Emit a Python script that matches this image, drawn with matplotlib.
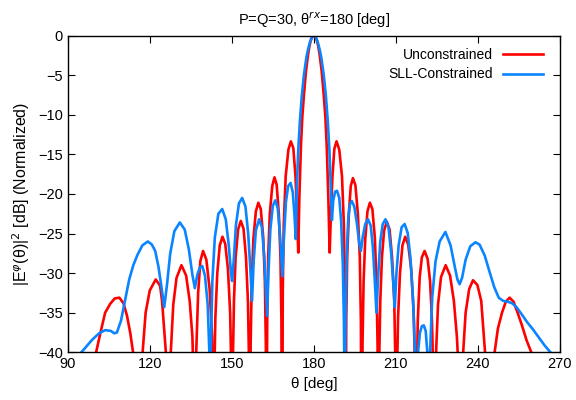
import numpy as np
import matplotlib.pyplot as plt

plt.rcParams['font.family'] = ['Liberation Sans', 'DejaVu Sans']

# Unconstrained pattern (theta [deg], level [dB])
theta_unc = [95.0, 97.0, 100.4, 102.0, 103.7, 105.5, 107.2, 108.9, 110.4, 111.7, 112.9, 113.9, 114.8, 115.5,
             116.3, 117.4, 118.5, 120.0, 122.2, 123.8, 124.5, 125.9, 126.7,
             126.9, 127.7, 128.6, 129.8, 131.6, 133.3, 134.6, 135.6, 136.1, 136.5,
             137.0, 137.7, 138.5, 139.5, 140.7, 141.9, 142.8, 143.3,
             143.6, 144.0, 144.7, 145.6, 146.6, 147.6, 148.6, 149.4, 149.8, 150.1,
             150.4, 150.8, 151.4, 152.3, 153.3, 154.3, 155.2, 155.9, 156.3, 156.6,
             156.9, 157.3, 157.9, 158.8, 159.7, 160.6, 161.5, 162.1, 162.45, 162.7,
             162.95, 163.3, 163.9, 164.8, 165.6, 166.4, 167.2, 167.8, 168.15, 168.4,
             168.65, 169.0, 169.7, 170.7, 171.6, 172.5, 173.3, 173.9, 174.3,
             174.7, 175.3, 175.8, 176.4, 177.1, 177.8, 178.3, 178.8, 179.4, 180.0,
             180.6, 181.2, 181.7, 182.2, 182.9, 183.6, 184.2, 184.7, 185.3, 185.8,
             186.2, 186.8, 187.5, 188.3, 189.3, 190.3, 191.0, 191.35, 191.6,
             191.85, 192.2, 192.8, 193.5, 194.3, 195.2, 196.1, 196.8, 197.2, 197.5,
             197.8, 198.2, 198.8, 199.6, 200.5, 201.4, 202.3, 202.9, 203.3, 203.6,
             203.9, 204.3, 204.9, 205.7, 206.7, 207.7, 208.6, 209.4, 209.8, 210.1,
             210.4, 210.8, 211.5, 212.4, 213.4, 214.5, 215.6, 216.5, 217.0, 217.4,
             217.6, 218.0, 218.7, 219.5, 220.5, 221.6, 222.5, 223.2, 223.6, 223.9,
             224.3, 224.7, 225.4, 226.5, 228.2, 229.8, 231.2, 232.3, 232.9, 233.6,
             234.2, 234.6, 235.5, 236.8, 238.2, 239.8, 241.2, 242.6, 243.5, 244.4,
             245.3, 246.1, 247.3, 248.8, 250.2, 251.6, 253.0, 254.5, 256.0, 257.8, 259.5, 261.0, 265.0]
db_unc = [-50, -46, -40, -37.5, -35.0, -33.9, -33.2, -33.1, -33.8, -35.4, -37.6, -40, -45, -60,
          -60, -40, -35, -32.2, -30.8, -31.6, -33.5, -40, -60,
          -60, -40, -34, -30.6, -29.0, -30.3, -33.5, -38, -45, -60,
          -40, -32.5, -28.5, -27.2, -28.3, -32, -38, -60,
          -43, -35.6, -30, -26.5, -25.4, -26.3, -29.5, -35, -42, -60,
          -41, -33.5, -28, -24.5, -23.4, -24.4, -28, -33.5, -41, -60,
          -39, -31, -25.7, -22.2, -21.1, -21.9, -25.5, -31, -39, -60,
          -36, -28, -22.5, -19, -17.9, -18.8, -22.5, -28, -36, -60,
          -32, -24, -17.8, -14.4, -13.35, -14.2, -17.8, -23, -27.4,
          -20.5, -13.8, -10.2, -7.4, -4.6, -2.6, -1.5, -0.7, -0.15, 0.0,
          -0.15, -0.7, -1.5, -2.6, -4.6, -7.4, -10.2, -13.8, -20.5, -27.4,
          -23, -17.8, -14.3, -13.35, -14.4, -17.8, -24, -32, -60,
          -36, -28, -22.5, -19, -18.0, -18.9, -22.5, -28, -36, -60,
          -39, -31, -25.7, -22.2, -21.1, -21.9, -25.5, -31, -39, -60,
          -41, -33.5, -28, -24.6, -23.5, -24.5, -28, -33.5, -41, -60,
          -43, -35.6, -30, -26.5, -25.4, -26.4, -29.5, -35, -42, -60,
          -45, -36, -30.5, -28, -27.2, -28.2, -31, -36, -42, -60,
          -60, -40, -34, -30.5, -29.0, -30.3, -33.5, -38, -42, -60,
          -45, -40, -35, -32, -30.9, -31.5, -33.5, -40, -45, -60,
          -45, -40, -37, -35, -33.6, -33.1, -33.6, -35, -36.5, -38.5, -40, -43, -50]

# SLL-constrained pattern
theta_sll = [93.0, 95.0, 97.0, 99.0, 101.5, 103.7, 105.8, 107.0, 108.0, 109.5, 111.0, 112.5, 114.0, 115.5,
             117.3, 119.3, 120.8, 122.0, 123.2, 124.3, 125.3, 126.3, 127.5, 129.0, 131.0, 132.8, 134.3,
             135.6, 136.5, 137.4, 138.3, 139.2, 140.2, 141.2, 141.8, 142.0, 142.3, 142.9, 143.8, 145.1,
             146.5, 147.8, 148.9, 149.6, 150.1, 150.7, 151.5, 152.6, 153.8, 155.0, 156.0, 156.8, 157.4,
             158.0, 158.8, 160.0, 161.0, 161.9, 162.5, 162.9, 163.4, 164.1, 165.0, 165.9, 166.8, 167.6,
             168.2, 168.5, 169.0, 169.8, 170.6, 171.5, 172.3, 172.9, 173.4,
             173.8, 174.3, 174.9, 175.6, 176.4, 177.3, 177.9, 178.5, 179.0, 179.5, 180.0, 180.5, 181.0,
             181.5, 182.1, 182.7, 183.6, 184.4, 185.1, 185.7, 186.2, 186.6,
             187.1, 187.8, 188.5, 189.3, 190.0, 190.6, 191.0, 191.3, 191.6, 192.0, 192.6, 193.2, 193.9,
             194.8, 195.7, 196.6, 197.2, 197.9, 198.8, 199.8, 200.8, 201.6, 202.3, 202.9, 203.5, 204.3,
             205.2, 206.2, 207.3, 208.3, 209.1, 209.6, 210.2, 211.0, 212.1, 213.2, 214.3, 215.3, 216.3,
             217.0, 217.5, 218.1, 218.8, 219.5, 220.2, 220.9, 221.5, 222.0, 222.5, 223.3, 224.5, 226.0,
             228.1, 230.0, 231.6, 232.5, 233.3, 234.2, 235.5, 237.2, 239.1, 240.6, 242.5, 244.3, 246.0,
             247.6, 249.2, 250.8, 252.5, 254.1, 256.0, 258.0, 260.1, 262.2, 264.3, 266.5, 268.0]
db_sll = [-41.5, -40, -39.2, -38.4, -37.6, -37.2, -37.3, -37.6, -37.5, -36, -33.4, -30.8, -29, -27.7,
          -26.5, -26.0, -26.4, -27.2, -29.2, -31.8, -34.3, -31.5, -27.5, -24.7, -23.6, -24.5, -27,
          -30.2, -31.9, -30.2, -29.3, -29.1, -30.3, -34, -40, -48, -40, -31, -25.5, -22.5,
          -21.9, -23.2, -26.5, -29.5, -31.0, -28.5, -24, -21.2, -20.5, -21.6, -25, -29.5, -33.5,
          -28.5, -24.6, -23.2, -24.2, -28, -32.5, -35.4, -30, -24.5, -21.5, -20.8, -21.8, -25,
          -28.5, -30.4, -26, -21, -19, -18.6, -19.8, -22.5, -25.7,
          -19, -14.5, -10.8, -7.6, -4.9, -2.7, -1.7, -0.9, -0.4, -0.1, 0.0, -0.1, -0.4,
          -0.9, -1.7, -2.7, -4.9, -7.6, -10.8, -14.5, -19, -23.3,
          -20.8, -19.7, -19.6, -20.5, -23.5, -29, -36, -48, -36, -28, -23, -21.3, -20.9,
          -21.6, -23.6, -26.2, -27.2, -25.4, -23.8, -23.2, -24.0, -26.8, -31, -35.0, -30.5, -26,
          -23.8, -23.2, -24.2, -27.5, -31.5, -34.3, -30, -26.5, -24.2, -23.8, -24.9, -28, -33.5,
          -40, -50, -40, -37.5, -36.7, -36.6, -37.3, -40, -50, -40, -33, -28.5, -26,
          -24.8, -26.5, -29.3, -30.8, -31.4, -30.6, -28.3, -26.6, -26.1, -26.4, -27.8, -29.9, -31.8,
          -33.1, -33.5, -33.6, -33.8, -34.3, -35.2, -36.2, -37.1, -38.1, -39.1, -40, -41]

fig = plt.figure(figsize=(5.76, 4.0), dpi=100)
ax = fig.add_axes([0.1175, 0.1193, 0.8547, 0.7915])

ax.plot(theta_unc, db_unc, color='#ff0000', lw=1.9, label='Unconstrained')
ax.plot(theta_sll, db_sll, color='#0a84ff', lw=1.9, label='SLL-Constrained')

ax.set_xlim(90, 270)
ax.set_ylim(-40, 0)
ax.set_xticks(np.arange(90, 271, 30))
ax.set_yticks(np.arange(-40, 1, 5))
ax.tick_params(direction='in', top=True, right=True, labelsize=10.5, length=5, width=0.8)
for s in ax.spines.values():
    s.set_linewidth(1.0)

ax.set_title('P=Q=30, θ$^{rx}$=180 [deg]', fontsize=10.5, pad=8)
ax.set_xlabel('θ [deg]', fontsize=11)
ax.set_ylabel('|E$^{φ}$(θ)|$^2$ [dB] (Normalized)', fontsize=11.5)

ax.legend(loc='upper right', bbox_to_anchor=(1.0, 1.014), frameon=False, markerfirst=False,
          fontsize=10, handlelength=2.9, handletextpad=0.7, borderaxespad=0.8, labelspacing=0.4)

fig.savefig('out.png', dpi=100)
